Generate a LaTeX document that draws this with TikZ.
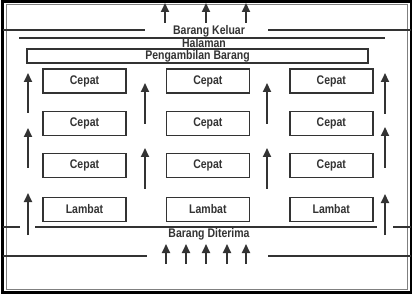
\documentclass[tikz,border=0pt]{standalone}
\usepackage{fontspec}
\setmainfont[FakeStretch=0.84]{Liberation Sans}
\usetikzlibrary{positioning, arrows.meta}
\definecolor{ink}{HTML}{333333}
\tikzstyle{rack} = [rectangle, minimum width=83pt, minimum height=24pt, text centered, draw=ink, line width=1.4pt, text=ink, font=\fontsize{12.5}{14}\selectfont\bfseries]
\tikzstyle{pickup} = [rectangle, minimum width=341pt, minimum height=14pt, inner sep=0pt, text centered, draw=ink, line width=1.4pt, text=ink, font=\fontsize{12.5}{14}\selectfont\bfseries]
\tikzstyle{areatext} = [inner sep=1pt, text=ink, font=\fontsize{12.5}{14}\selectfont\bfseries]
\tikzstyle{wall} = [draw=ink, line width=1.5pt]
\tikzstyle{flow} = [draw=ink, line width=2pt, -{Triangle[width=8pt,length=9pt]}]

\begin{document}
\begin{tikzpicture}[x=1pt, y=-1pt]
\useasboundingbox (0,0) rectangle (414,296);
% frame
\draw [black, line width=2.5pt] (2.5,1.5) rectangle (411,292.5);
\draw [gray, line width=0.8pt] (6.5,4.5) rectangle (407.5,289);

% labels
\node (keluar) [areatext] at (209,31) {Barang Keluar};
\node (halaman) [areatext] at (204,43.5) {Halaman};
\node (ambil) [pickup] at (197.5,56) {Pengambilan Barang};
\node (terima) [areatext] at (209,234) {Barang Diterima};

% racks
\node (c11) [rack] at (84.5,81) {Cepat};
\node (c12) [rack, right=39pt of c11] {Cepat};
\node (c13) [rack, right=39pt of c12] {Cepat};
\node (c21) [rack, below=17pt of c11] {Cepat};
\node (c22) [rack, right=39pt of c21] {Cepat};
\node (c23) [rack, right=39pt of c22] {Cepat};
\node (c31) [rack, below=17pt of c21] {Cepat};
\node (c32) [rack, right=39pt of c31] {Cepat};
\node (c33) [rack, right=39pt of c32] {Cepat};
\node (l1) [rack, below=18pt of c31] {Lambat};
\node (l2) [rack, right=39pt of l1] {Lambat};
\node (l3) [rack, right=39pt of l2] {Lambat};

% walls
\draw [wall] (2.5,30) -- (145,30);
\draw [wall] (268,30) -- (411,30);
\draw [wall] (19,38) -- (385,38);
\draw [wall] (2.5,227) -- (20,227);
\draw [wall] (35,227) -- (377,227);
\draw [wall] (393,227) -- (411,227);
\draw [wall] (2.5,256) -- (147,256);
\draw [wall] (268,256) -- (411,256);

% goods out
\draw [flow] (165,23) -- (165,3);
\draw [flow] (206,23) -- (206,3);
\draw [flow] (246,23) -- (246,3);

% aisles
\draw [flow] (28,113) -- (28,73);
\draw [flow] (28,168) -- (28,128);
\draw [flow] (28,235) -- (28,193);
\draw [flow] (145,124) -- (145,83);
\draw [flow] (145,189) -- (145,148);
\draw [flow] (267,124) -- (267,83);
\draw [flow] (267,189) -- (267,148);
\draw [flow] (385,114) -- (385,73);
\draw [flow] (385,168) -- (385,127);
\draw [flow] (385,235) -- (385,194);

% goods in
\draw [flow] (166,264) -- (166,244);
\draw [flow] (186,264) -- (186,244);
\draw [flow] (206,264) -- (206,244);
\draw [flow] (227,264) -- (227,244);
\draw [flow] (246,264) -- (246,244);
\end{tikzpicture}
\end{document}
